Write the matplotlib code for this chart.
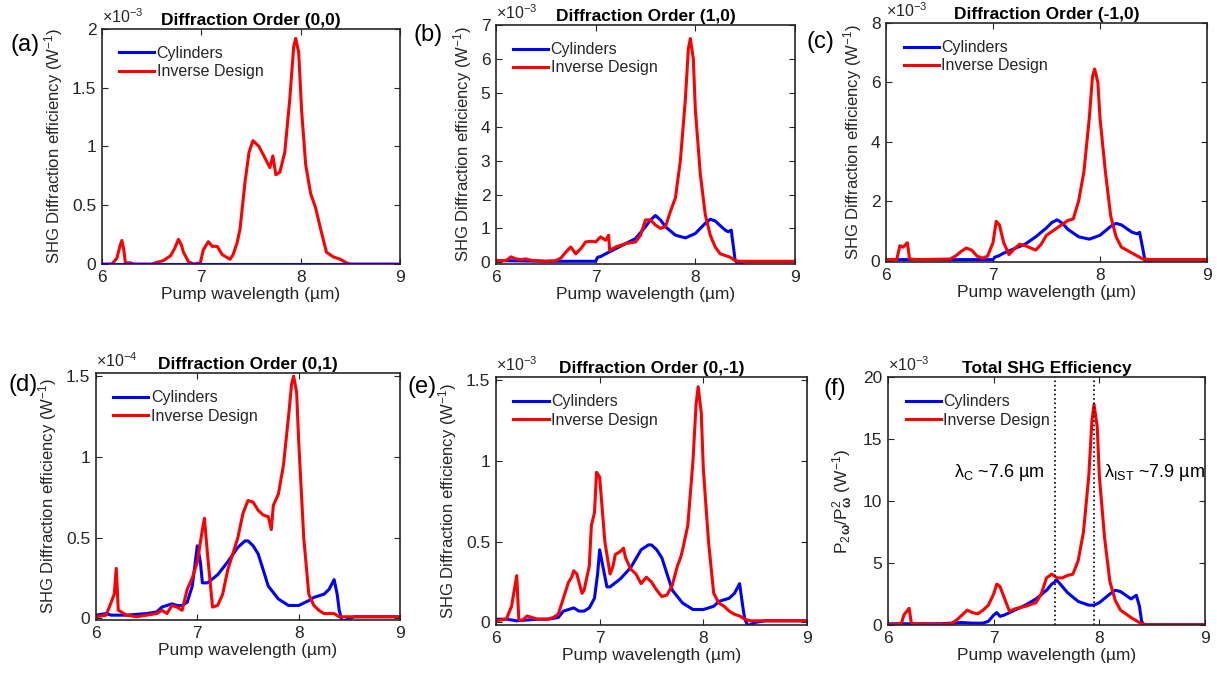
import numpy as np
import matplotlib
matplotlib.use("Agg")
import matplotlib.pyplot as plt
from matplotlib.ticker import FormatStrFormatter

plt.rcParams['font.family'] = ['Liberation Sans', 'DejaVu Sans']
plt.rcParams['mathtext.fontset'] = 'custom'
plt.rcParams['mathtext.rm'] = 'Liberation Sans'
plt.rcParams['mathtext.it'] = 'Liberation Sans:italic'
plt.rcParams['mathtext.bf'] = 'Liberation Sans:bold'

GRAY = '#262626'

# ---- data (y in units of the panel's x10^n factor) ----
# (a) order (0,0), x1e-3
a_cyl_x = [6.0, 9.0]
a_cyl_y = [0.0, 0.0]
a_inv_x = [6.0, 6.1, 6.15, 6.18, 6.2, 6.22, 6.235, 6.285, 6.32, 6.5, 6.62, 6.69, 6.73, 6.77, 6.8,
           6.82, 6.87, 6.92, 6.99, 7.02, 7.07, 7.11, 7.16, 7.21, 7.29, 7.32, 7.36, 7.39, 7.44,
           7.48, 7.52, 7.58, 7.63, 7.69, 7.72, 7.75, 7.79, 7.84, 7.89, 7.93, 7.95, 7.98, 8.01,
           8.05, 8.1, 8.15, 8.2, 8.26, 8.33, 8.4, 8.46, 8.5, 9.0]
a_inv_y = [0.0, 0.0, 0.05, 0.15, 0.2, 0.12, 0.01, 0.01, 0.0, 0.0, 0.03, 0.07, 0.13, 0.21, 0.16,
           0.1, 0.02, 0.0, 0.01, 0.12, 0.19, 0.15, 0.15, 0.08, 0.04, 0.08, 0.18, 0.3, 0.7,
           0.95, 1.05, 1.0, 0.92, 0.82, 0.92, 0.76, 0.78, 0.95, 1.4, 1.85, 1.92, 1.8, 1.3,
           0.85, 0.6, 0.48, 0.3, 0.1, 0.06, 0.04, 0.01, 0.0, 0.0]

# (b) order (1,0), x1e-3
b_cyl_x = [6.0, 6.5, 7.0, 7.02, 7.05, 7.1, 7.2, 7.3, 7.4, 7.5, 7.55, 7.6, 7.65, 7.7, 7.8, 7.9,
           8.0, 8.1, 8.15, 8.2, 8.25, 8.3, 8.33, 8.36, 8.38, 8.4, 8.43, 8.5, 9.0]
b_cyl_y = [0.05, 0.03, 0.03, 0.15, 0.17, 0.25, 0.4, 0.55, 0.7, 1.05, 1.25, 1.38, 1.25, 1.05, 0.8,
           0.72, 0.85, 1.15, 1.27, 1.22, 1.08, 0.95, 0.9, 0.95, 0.5, 0.05, -0.05, 0.02, 0.02]
b_inv_x = [6.0, 6.1, 6.15, 6.2, 6.25, 6.3, 6.35, 6.4, 6.5, 6.6, 6.65, 6.7, 6.75, 6.8, 6.85, 6.9,
           6.95, 7.0, 7.05, 7.1, 7.13, 7.14, 7.2, 7.25, 7.3, 7.4, 7.45, 7.5, 7.55, 7.6, 7.65,
           7.7, 7.75, 7.8, 7.85, 7.9, 7.93, 7.95, 7.98, 8.0, 8.05, 8.1, 8.15, 8.2, 8.25, 8.3,
           8.35, 8.4, 8.45, 9.0]
b_inv_y = [0.05, 0.05, 0.16, 0.1, 0.08, 0.1, 0.06, 0.05, 0.03, 0.05, 0.12, 0.3, 0.45, 0.25, 0.4, 0.6,
           0.62, 0.6, 0.75, 0.65, 0.8, 0.35, 0.45, 0.5, 0.55, 0.6, 0.8, 1.25, 1.25, 1.1, 1.0,
           1.05, 1.5, 1.9, 3.0, 4.8, 6.3, 6.6, 6.0, 4.5, 2.6, 1.4, 0.8, 0.45, 0.25, 0.2,
           0.15, 0.05, 0.03, 0.03]

# (c) order (-1,0), x1e-3
c_cyl_x = [6.0, 7.0, 7.02, 7.05, 7.1, 7.2, 7.3, 7.4, 7.5, 7.55, 7.6, 7.65, 7.7, 7.8, 7.9, 8.0,
           8.1, 8.15, 8.2, 8.3, 8.35, 8.37, 8.4, 8.42, 8.44, 8.5, 9.0]
c_cyl_y = [0.03, 0.03, 0.12, 0.15, 0.25, 0.4, 0.55, 0.8, 1.1, 1.28, 1.37, 1.25, 1.05, 0.8, 0.72,
           0.85, 1.15, 1.25, 1.2, 0.95, 0.9, 0.95, 0.4, 0.0, -0.05, 0.02, 0.02]
c_inv_x = [6.0, 6.1, 6.13, 6.16, 6.2, 6.22, 6.3, 6.6, 6.65, 6.7, 6.75, 6.8, 6.85, 6.9, 6.95, 7.0,
           7.03, 7.06, 7.1, 7.15, 7.2, 7.25, 7.3, 7.4, 7.45, 7.5, 7.6, 7.7, 7.75, 7.8, 7.85,
           7.9, 7.93, 7.95, 7.98, 8.0, 8.05, 8.1, 8.15, 8.2, 8.3, 8.4, 8.5, 9.0]
c_inv_y = [0.03, 0.03, 0.5, 0.45, 0.6, 0.05, 0.03, 0.05, 0.15, 0.3, 0.42, 0.35, 0.15, 0.08, 0.15, 0.6,
           1.32, 1.2, 0.6, 0.2, 0.4, 0.55, 0.5, 0.35, 0.55, 0.85, 1.1, 1.35, 1.4, 2.0, 3.0,
           4.8, 6.2, 6.45, 6.0, 4.8, 3.0, 1.5, 0.8, 0.45, 0.25, 0.05, 0.03, 0.03]

# (d) order (0,1), x1e-4
d_cyl_x = [6.0, 6.1, 6.15, 6.2, 6.3, 6.5, 6.6, 6.65, 6.7, 6.75, 6.8, 6.85, 6.9, 6.95, 6.98, 7.0,
           7.03, 7.05, 7.1, 7.2, 7.3, 7.4, 7.47, 7.5, 7.55, 7.6, 7.65, 7.7, 7.8, 7.9, 7.95,
           8.0, 8.1, 8.15, 8.2, 8.25, 8.3, 8.35, 8.38, 8.4, 8.43, 8.5, 8.55, 9.0]
d_cyl_y = [0.02, 0.03, 0.02, 0.02, 0.02, 0.03, 0.04, 0.07, 0.08, 0.09, 0.08, 0.08, 0.1, 0.2, 0.35, 0.45,
           0.35, 0.22, 0.22, 0.27, 0.35, 0.44, 0.48, 0.48, 0.45, 0.4, 0.3, 0.2, 0.12, 0.08, 0.08,
           0.08, 0.11, 0.13, 0.14, 0.15, 0.18, 0.24, 0.15, 0.05, -0.02, 0.0, 0.01, 0.01]
d_inv_x = [6.0, 6.1, 6.15, 6.18, 6.2, 6.22, 6.25, 6.3, 6.4, 6.5, 6.6, 6.65, 6.7, 6.75, 6.8, 6.85,
           6.9, 6.95, 7.0, 7.05, 7.07, 7.1, 7.15, 7.2, 7.25, 7.3, 7.4, 7.45, 7.5, 7.55, 7.6,
           7.65, 7.7, 7.73, 7.75, 7.8, 7.85, 7.9, 7.93, 7.95, 7.98, 8.0, 8.05, 8.1, 8.15, 8.2,
           8.25, 8.3, 8.35, 8.4, 8.5, 9.0]
d_inv_y = [0.01, 0.02, 0.1, 0.15, 0.31, 0.05, 0.04, 0.02, 0.01, 0.02, 0.03, 0.05, 0.03, 0.08, 0.07, 0.05,
           0.18, 0.25, 0.35, 0.55, 0.62, 0.4, 0.07, 0.08, 0.15, 0.3, 0.5, 0.65, 0.73, 0.72, 0.67,
           0.64, 0.63, 0.55, 0.7, 0.77, 0.95, 1.25, 1.45, 1.5, 1.4, 1.1, 0.5, 0.15, 0.08, 0.05,
           0.03, 0.03, 0.03, 0.01, 0.01, 0.01]

# (e) order (0,-1), x1e-3
e_cyl_x = [6.0, 6.1, 6.2, 6.3, 6.4, 6.5, 6.6, 6.65, 6.7, 6.75, 6.8, 6.85, 6.9, 6.95, 6.98, 7.0,
           7.03, 7.07, 7.1, 7.2, 7.3, 7.4, 7.47, 7.5, 7.55, 7.6, 7.65, 7.7, 7.8, 7.9, 8.0,
           8.1, 8.15, 8.2, 8.25, 8.3, 8.35, 8.38, 8.4, 8.43, 8.5, 8.6, 9.0]
e_cyl_y = [0.02, 0.02, 0.01, 0.015, 0.02, 0.02, 0.03, 0.07, 0.08, 0.09, 0.07, 0.07, 0.09, 0.15, 0.3, 0.45,
           0.35, 0.22, 0.22, 0.27, 0.34, 0.45, 0.48, 0.48, 0.45, 0.4, 0.3, 0.2, 0.12, 0.08, 0.08,
           0.1, 0.13, 0.14, 0.15, 0.18, 0.24, 0.1, 0.02, -0.02, 0.0, 0.01, 0.01]
e_inv_x = [6.0, 6.1, 6.15, 6.2, 6.22, 6.25, 6.3, 6.35, 6.4, 6.5, 6.55, 6.6, 6.65, 6.7, 6.73, 6.75,
           6.78, 6.8, 6.83, 6.85, 6.9, 6.92, 6.95, 6.97, 7.0, 7.05, 7.1, 7.13, 7.15, 7.2, 7.23,
           7.25, 7.3, 7.35, 7.4, 7.45, 7.5, 7.55, 7.6, 7.65, 7.7, 7.75, 7.78, 7.8, 7.85, 7.9,
           7.93, 7.95, 7.98, 8.0, 8.05, 8.1, 8.15, 8.2, 8.25, 8.3, 8.35, 8.4, 8.45, 9.0]
e_inv_y = [0.01, 0.02, 0.1, 0.29, 0.02, 0.01, 0.04, 0.03, 0.02, 0.02, 0.03, 0.05, 0.15, 0.25, 0.28, 0.32,
           0.3, 0.25, 0.18, 0.2, 0.35, 0.6, 0.68, 0.93, 0.9, 0.5, 0.3, 0.35, 0.42, 0.44, 0.46,
           0.4, 0.33, 0.3, 0.24, 0.28, 0.25, 0.2, 0.16, 0.17, 0.23, 0.35, 0.4, 0.45, 0.6, 1.0,
           1.35, 1.46, 1.3, 0.95, 0.5, 0.18, 0.12, 0.1, 0.07, 0.05, 0.04, 0.02, 0.01, 0.01]

# (f) total SHG efficiency, x1e-3
f_cyl_x = [6.0, 6.5, 6.7, 6.8, 6.9, 6.95, 7.0, 7.03, 7.06, 7.1, 7.2, 7.3, 7.4, 7.5, 7.55, 7.6,
           7.65, 7.7, 7.8, 7.9, 7.95, 8.0, 8.1, 8.15, 8.2, 8.25, 8.3, 8.35, 8.38, 8.4, 8.42, 9.0]
f_cyl_y = [0.1, 0.1, 0.2, 0.15, 0.15, 0.3, 0.8, 1.0, 0.7, 0.8, 1.2, 1.6, 2.1, 2.8, 3.3, 3.6,
           3.1, 2.6, 1.9, 1.6, 1.6, 1.8, 2.5, 2.8, 2.7, 2.4, 2.1, 2.4, 1.5, 0.3, 0.02, 0.02]
f_inv_x = [6.0, 6.1, 6.13, 6.15, 6.2, 6.22, 6.25, 6.3, 6.4, 6.5, 6.6, 6.65, 6.7, 6.75, 6.8, 6.85,
           6.9, 6.95, 7.0, 7.03, 7.06, 7.1, 7.15, 7.2, 7.3, 7.4, 7.45, 7.5, 7.55, 7.6, 7.65,
           7.7, 7.75, 7.8, 7.85, 7.9, 7.93, 7.95, 7.98, 8.0, 8.05, 8.1, 8.15, 8.2, 8.3, 8.4,
           8.45, 9.0]
f_inv_y = [0.05, 0.05, 0.2, 0.8, 1.35, 0.2, 0.05, 0.1, 0.05, 0.05, 0.1, 0.4, 0.8, 1.2, 1.0, 0.9,
           1.2, 1.6, 2.5, 3.3, 3.1, 2.2, 1.1, 1.3, 1.5, 1.8, 2.5, 3.8, 4.1, 3.8, 3.8,
           4.0, 4.1, 5.2, 7.5, 12.0, 16.5, 17.8, 16.0, 12.0, 7.0, 3.5, 2.0, 1.2, 0.6, 0.1,
           0.02, 0.02]
lambda_c = 7.58
lambda_ist = 7.95

panels = [
    ('(a)', 'Diffraction Order (0,0)', a_cyl_x, a_cyl_y, a_inv_x, a_inv_y, -3, (0, 2), [0, 0.5, 1, 1.5, 2]),
    ('(b)', 'Diffraction Order (1,0)', b_cyl_x, b_cyl_y, b_inv_x, b_inv_y, -3, (-0.05, 7), [0, 1, 2, 3, 4, 5, 6, 7]),
    ('(c)', 'Diffraction Order (-1,0)', c_cyl_x, c_cyl_y, c_inv_x, c_inv_y, -3, (-0.05, 8), [0, 2, 4, 6, 8]),
    ('(d)', 'Diffraction Order (0,1)', d_cyl_x, d_cyl_y, d_inv_x, d_inv_y, -4, (-0.01, 1.52), [0, 0.5, 1, 1.5]),
    ('(e)', 'Diffraction Order (0,-1)', e_cyl_x, e_cyl_y, e_inv_x, e_inv_y, -3, (-0.016, 1.52), [0, 0.5, 1, 1.5]),
    ('(f)', 'Total SHG Efficiency', f_cyl_x, f_cyl_y, f_inv_x, f_inv_y, -3, (0, 20), [0, 5, 10, 15, 20]),
]

# axes boxes in pixels: left, top, right, bottom
W, H = 1217, 677
boxes = [(102, 29, 400, 264), (496, 25, 795, 264), (886, 23, 1207, 262),
         (96, 373, 400, 620), (496, 377, 807, 625), (888, 377, 1205, 625)]
label_pos = [(25, 45), (428, 35), (820, 42), (23, 385), (422, 387), (835, 389)]

fig = plt.figure(figsize=(W / 100, H / 100), dpi=100)

for i, (tag, title, cx, cy, ix, iy, expo, ylim, yticks) in enumerate(panels):
    l, t, r, b = boxes[i]
    ax = fig.add_axes([l / W, 1 - b / H, (r - l) / W, (b - t) / H])
    if i == 0:
        ax.plot(ix, iy, color='red', lw=2.2, label='Inverse Design', zorder=2)
        ax.plot(cx, cy, color='blue', lw=2.2, label='Cylinders', zorder=3)
        h, lab = ax.get_legend_handles_labels()
        h, lab = h[::-1], lab[::-1]
    else:
        ax.plot(cx, cy, color='blue', lw=2.2, label='Cylinders')
        ax.plot(ix, iy, color='red', lw=2.2, label='Inverse Design')
        h, lab = ax.get_legend_handles_labels()
    ax.set_xlim(6, 9)
    ax.set_ylim(*ylim)
    ax.set_xticks([6, 7, 8, 9])
    ax.set_yticks(yticks)
    ax.yaxis.set_major_formatter(FormatStrFormatter('%g'))
    ax.tick_params(direction='in', top=True, right=True, length=4, width=0.8,
                   labelsize=12.5, colors=GRAY, pad=4)
    for s in ax.spines.values():
        s.set_color(GRAY)
        s.set_linewidth(1.2)
    ax.set_xlabel('Pump wavelength (µm)', fontsize=12.5, color=GRAY, labelpad=2)
    if i == 5:
        ax.set_ylabel(r'P$_\mathregular{2}$$_{\mathbf{ω}}$/P$^\mathregular{2}_{\mathbf{ω}}$ (W$^{-1}$)',
                      fontsize=12.5, color=GRAY, labelpad=6)
    else:
        ax.set_ylabel(r'SHG Diffraction efficiency (W$^{-1}$)', fontsize=12, color=GRAY, labelpad=5)
    ax.set_title(title, fontsize=12.5, fontweight='bold', pad=3)
    ax.text(0.0, 1.012, r'$\times$10$^{%d}$' % expo, transform=ax.transAxes,
            ha='left', va='bottom', fontsize=11.5, color=GRAY)
    ax.legend(h, lab, loc='upper left', bbox_to_anchor=(0.02, 0.975), frameon=False,
              fontsize=11.5, handlelength=2.2, handletextpad=0.15, labelspacing=0.2,
              borderaxespad=0.3)
    for txt in ax.get_legend().get_texts():
        txt.set_color(GRAY)
    fig.text(label_pos[i][0] / W, 1 - label_pos[i][1] / H, tag, fontsize=17,
             ha='center', va='center')
    if i == 5:
        ax.axvline(lambda_c, color='black', ls=':', lw=1.2)
        ax.axvline(lambda_ist, color='black', ls=':', lw=1.2)
        ax.text(6.62, 12.3, 'λ$_\\mathregular{C}$ ~7.6 µm', fontsize=13, va='center')
        ax.text(8.04, 12.3, 'λ$_\\mathregular{IST}$ ~7.9 µm', fontsize=13, va='center')

fig.savefig('out.png', dpi=100)
